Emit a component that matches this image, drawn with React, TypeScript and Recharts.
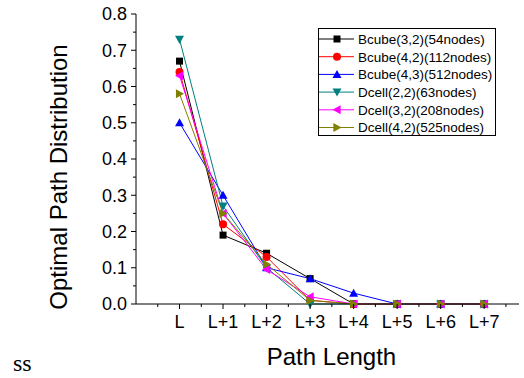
import { LineChart, Line, XAxis, YAxis, Legend, Label } from "recharts";

const categories = ["L", "L+1", "L+2", "L+3", "L+4", "L+5", "L+6", "L+7"];

const bcube32 = [0.67, 0.19, 0.14, 0.07, 0, 0, 0, 0];
const bcube42 = [0.64, 0.22, 0.13, 0.01, 0, 0, 0, 0];
const bcube43 = [0.5, 0.3, 0.1, 0.07, 0.03, 0, 0, 0];
const dcell22 = [0.73, 0.27, 0.1, 0, 0, 0, 0, 0];
const dcell32 = [0.63, 0.25, 0.095, 0.02, 0, 0, 0, 0];
const dcell42 = [0.58, 0.25, 0.11, 0.01, 0, 0, 0, 0];

const xTicks = [-0.5, 0, 0.5, 1, 1.5, 2, 2.5, 3, 3.5, 4, 4.5, 5, 5.5, 6, 6.5, 7, 7.5];
const yTicks = [0, 0.05, 0.1, 0.15, 0.2, 0.25, 0.3, 0.35, 0.4, 0.45, 0.5, 0.55, 0.6, 0.65, 0.7, 0.75, 0.8];

const FONT = 'Arial, "Liberation Sans", sans-serif';

type Shape = "square" | "circle" | "up" | "down" | "left" | "right";

const series: { key: string; name: string; color: string; shape: Shape; values: number[] }[] = [
  { key: "b32", name: "Bcube(3,2)(54nodes)", color: "#000000", shape: "square", values: bcube32 },
  { key: "b42", name: "Bcube(4,2)(112nodes)", color: "#ff0000", shape: "circle", values: bcube42 },
  { key: "b43", name: "Bcube(4,3)(512nodes)", color: "#0000ff", shape: "up", values: bcube43 },
  { key: "d22", name: "Dcell(2,2)(63nodes)", color: "#008080", shape: "down", values: dcell22 },
  { key: "d32", name: "Dcell(3,2)(208nodes)", color: "#ff00ff", shape: "left", values: dcell32 },
  { key: "d42", name: "Dcell(4,2)(525nodes)", color: "#808000", shape: "right", values: dcell42 },
];

const data = categories.map((c, i) => {
  const row: Record<string, number | string> = { x: i, cat: c };
  series.forEach((s) => {
    row[s.key] = s.values[i];
  });
  return row;
});

function Marker({ cx, cy, shape, color }: { cx: number; cy: number; shape: Shape; color: string }) {
  const h = 4.5;
  if (shape === "square") {
    return <rect x={cx - 3.5} y={cy - 3.5} width={7} height={7} fill={color} />;
  }
  if (shape === "circle") {
    return <circle cx={cx} cy={cy} r={4} fill={color} />;
  }
  let pts = "";
  if (shape === "up") pts = `${cx},${cy - h} ${cx - h},${cy + h * 0.8} ${cx + h},${cy + h * 0.8}`;
  if (shape === "down") pts = `${cx},${cy + h} ${cx - h},${cy - h * 0.8} ${cx + h},${cy - h * 0.8}`;
  if (shape === "left") pts = `${cx - h},${cy} ${cx + h * 0.8},${cy - h} ${cx + h * 0.8},${cy + h}`;
  if (shape === "right") pts = `${cx + h},${cy} ${cx - h * 0.8},${cy - h} ${cx - h * 0.8},${cy + h}`;
  return <polygon points={pts} fill={color} />;
}

const XTick = ({ x, y, payload }: any) => {
  const v = payload.value;
  const major = Number.isInteger(v) && v >= 0;
  return (
    <g>
      <line x1={x} y1={y} x2={x} y2={y + (major ? 5 : 3)} stroke="#000" />
      {major && (
        <text x={x} y={y + 24} textAnchor="middle" fontSize={18} fontFamily={FONT} fill="#000">
          {categories[v]}
        </text>
      )}
    </g>
  );
};

const YTick = ({ x, y, payload }: any) => {
  const v = payload.value;
  const major = Math.round(v * 100) % 10 === 0;
  return (
    <g>
      <line x1={x} y1={y} x2={x - (major ? 5 : 3)} y2={y} stroke="#000" />
      {major && (
        <text x={x - 9} y={y} dy="0.36em" textAnchor="end" fontSize={18} fontFamily={FONT} fill="#000">
          {v.toFixed(1)}
        </text>
      )}
    </g>
  );
};

const renderLegend = () => (
  <div style={{ width: 176, height: 106, border: "1px solid #000", background: "#fff" }}>
    <svg width={176} height={106}>
      {series.map((s, i) => {
        const cy = 10 + i * 17.7;
        return (
          <g key={s.key}>
            <line x1={0} y1={cy} x2={35} y2={cy} stroke={s.color} />
            <Marker cx={18} cy={cy} shape={s.shape} color={s.color} />
            <text x={39} y={cy} dy="0.36em" fontSize={13.5} fontFamily={FONT} fill="#000">
              {s.name}
            </text>
          </g>
        );
      })}
    </svg>
  </div>
);

const YTitle = () => (
  <text
    x={58}
    y={177}
    transform="rotate(-90 58 177)"
    textAnchor="middle"
    dominantBaseline="central"
    fontSize={24}
    fontFamily={FONT}
    fill="#000"
  >
    Optimal Path Distribution
  </text>
);

export default function App() {
  return (
    <div style={{ position: "absolute", left: 0, top: 0, width: 524, height: 378, background: "#fff" }}>
      <LineChart width={524} height={378} data={data} margin={{ top: 14, right: 5, bottom: 44, left: 0 }}>
        <XAxis
          dataKey="x"
          type="number"
          domain={[-1, 7.8]}
          ticks={xTicks}
          interval={0}
          allowDataOverflow
          tickSize={0}
          tickMargin={0}
          tickLine={false}
          tick={<XTick />}
          height={30}
          axisLine={{ stroke: "#000" }}
        >
          <Label
            value="Path Length"
            position="bottom"
            offset={14}
            dx={4}
            style={{ fontSize: 24, fontFamily: FONT, fill: "#000" }}
          />
        </XAxis>
        <YAxis
          type="number"
          domain={[0, 0.8]}
          ticks={yTicks}
          interval={0}
          width={136}
          tickSize={0}
          tickMargin={0}
          tickLine={false}
          tick={<YTick />}
          axisLine={{ stroke: "#000" }}
        >
          <Label content={<YTitle />} />
        </YAxis>
        <Legend
          layout="horizontal"
          verticalAlign="middle"
          align="center"
          content={renderLegend}
          wrapperStyle={{ left: 318, top: 28, width: 178, height: 108 }}
        />
        {series.map((s) => (
          <Line
            key={s.key}
            dataKey={s.key}
            name={s.name}
            stroke={s.color}
            strokeWidth={1}
            isAnimationActive={false}
            dot={(p: any) => <Marker key={`${s.key}-${p.index}`} cx={p.cx} cy={p.cy} shape={s.shape} color={s.color} />}
            activeDot={false}
          />
        ))}
      </LineChart>
      <div
        style={{
          position: "absolute",
          left: 13,
          top: 348,
          fontFamily: '"Liberation Serif", "DejaVu Serif", serif',
          fontSize: 24,
          lineHeight: "30px",
        }}
      >
        ss
      </div>
    </div>
  );
}
